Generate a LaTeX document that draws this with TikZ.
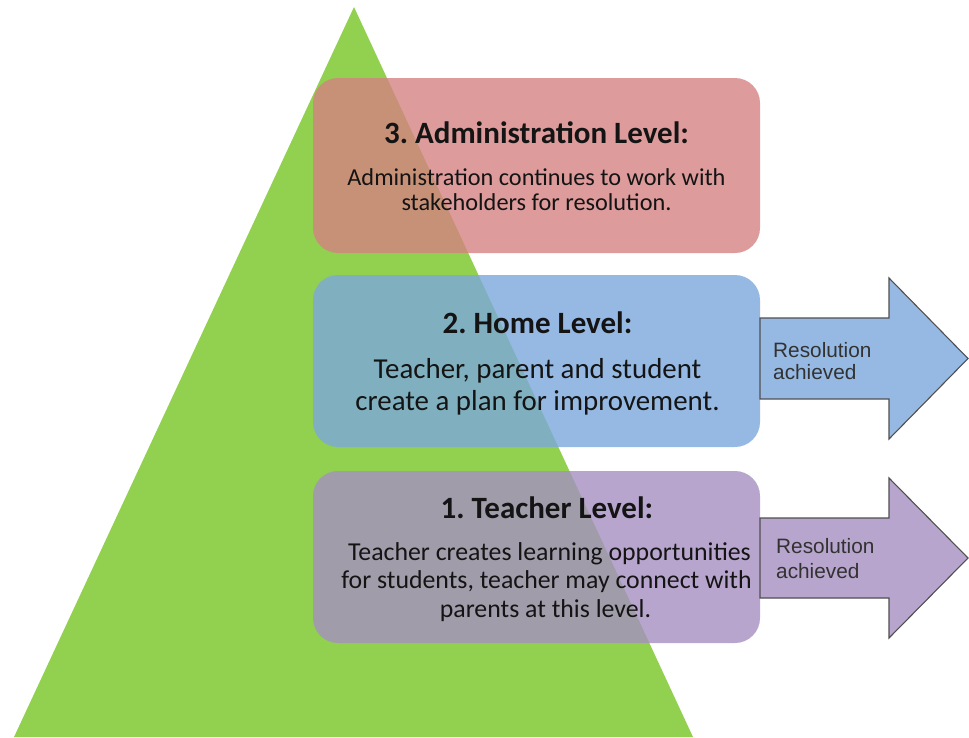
\documentclass[tikz,border=0pt]{standalone}
\usepackage{fontspec}
\setmainfont{Carlito}
\newfontfamily\arialfont{Liberation Sans}
\frenchspacing
\definecolor{trigreen}{RGB}{146,208,80}
\definecolor{boxred}{RGB}{213,130,130}
\definecolor{boxblue}{RGB}{124,168,221}
\definecolor{boxpurple}{RGB}{165,143,193}
\definecolor{arrblue}{RGB}{150,185,228}
\definecolor{arrpurple}{RGB}{183,165,205}
\definecolor{txtdark}{RGB}{20,20,20}
\definecolor{arrline}{RGB}{80,80,80}
\definecolor{arrtxt}{RGB}{50,50,50}
\begin{document}
\begin{tikzpicture}[x=1pt,y=-1pt,
  lvlbox/.style={rectangle, rounded corners=25pt, fill opacity=0.8, draw=none,
    minimum width=447pt, inner sep=0pt},
  ttl/.style={anchor=base, text=txtdark, inner sep=0pt, font=\fontsize{31}{37}\selectfont\bfseries\frenchspacing},
  bodyred/.style={anchor=base, text=txtdark, inner sep=0pt, font=\fontsize{24.3}{29}\selectfont},
  bodyblue/.style={anchor=base, text=txtdark, inner sep=0pt, font=\fontsize{28.9}{34}\selectfont},
  bodypurple/.style={anchor=base, text=txtdark, inner sep=0pt, font=\fontsize{25.8}{30}\selectfont},
  resarrow/.style={draw=arrline, line width=1.1pt, line join=miter},
  restxt/.style={anchor=base west, text=arrtxt, inner sep=0pt, font=\arialfont\fontsize{20.8}{25}\selectfont}
]
\useasboundingbox (0,0) rectangle (969,737);
% pyramid
\fill[trigreen] (354,7) -- (693,737) -- (14,737) -- cycle;
% level boxes
\node[lvlbox, fill=boxred, minimum height=175pt] (adminbox) at (536.5,165.5) {};
\node[lvlbox, fill=boxblue, minimum height=172pt] (homebox) at (536.5,361) {};
\node[lvlbox, fill=boxpurple, minimum height=172pt] (teacherbox) at (536.5,557) {};
% arrows
\draw[resarrow, fill=arrblue] (760,318) -- (889,318) -- (889,278) -- (968,358.5) -- (889,439) -- (889,399) -- (760,399) -- cycle;
\draw[resarrow, fill=arrpurple] (760,518) -- (889,518) -- (889,478) -- (968,558) -- (889,638) -- (889,598) -- (760,598) -- cycle;
% texts: level 3
\node[ttl] (admint) at (536.5,143) {3. Administration Level:};
\node[bodyred] (adminl1) at (536.5,185) {Administration continues to work with};
\node[bodyred] (adminl2) at (536.5,210.5) {stakeholders for resolution.};
% level 2
\node[ttl] (homet) at (537.5,333) {2. Home Level:};
\node[bodyblue] (homel1) at (537.5,378) {Teacher, parent and student};
\node[bodyblue] (homel2) at (537.5,410) {create a plan for improvement.};
% level 1
\node[ttl] (teachert) at (547,518) {1. Teacher Level:};
\node[bodypurple] (teacherl1) at (549.5,560) {Teacher creates learning opportunities};
\node[bodypurple] (teacherl2) at (546.5,588) {for students, teacher may connect with};
\node[bodypurple] (teacherl3) at (545.5,617) {parents at this level.};
% arrow labels
\node[restxt] (res2a) at (773,357) {Resolution};
\node[restxt] (res2b) at (773,379.5) {achieved};
\node[restxt] (res1a) at (776,553) {Resolution};
\node[restxt] (res1b) at (776,578) {achieved};
\end{tikzpicture}
\end{document}
